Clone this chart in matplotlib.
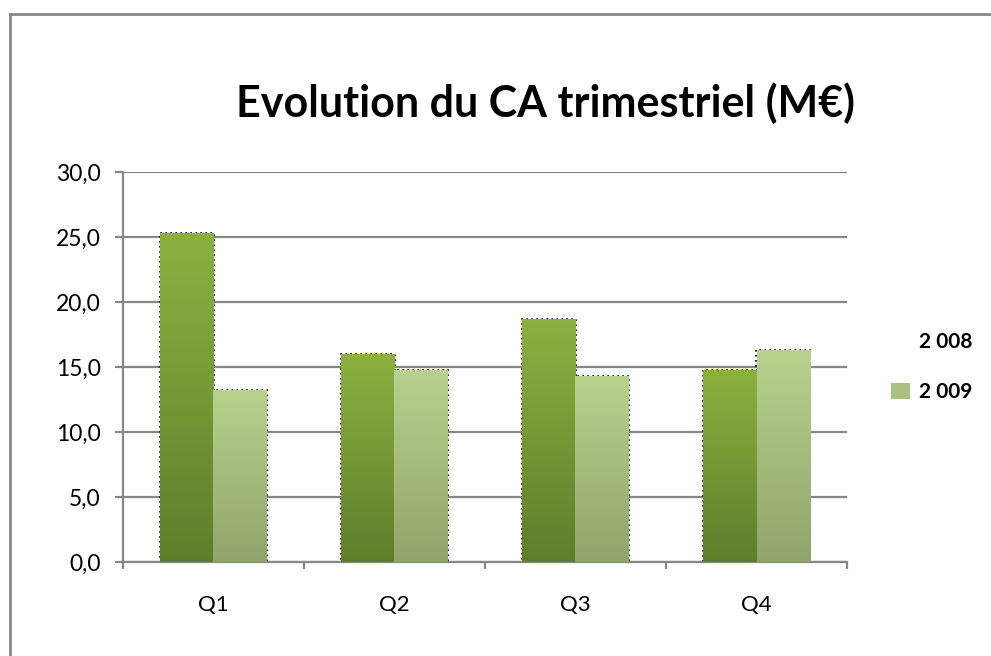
import numpy as np
import matplotlib
matplotlib.use("Agg")
import matplotlib.pyplot as plt
from matplotlib.patches import Patch
from matplotlib.lines import Line2D

plt.rcParams['font.family'] = ['Lato', 'DejaVu Sans']

# data
quarters = ["Q1", "Q2", "Q3", "Q4"]
ca_2008 = [25.3, 16.0, 18.7, 14.8]
ca_2009 = [13.2, 14.8, 14.3, 16.3]
series_labels = ["2 008", "2 009"]
y_ticks = [0, 5, 10, 15, 20, 25, 30]

grey = "#878787"
col_2008 = ("#8cb140", "#5e7e2a")   # top, bottom
col_2009 = ("#b8d28c", "#91a46a")

fig = plt.figure(figsize=(9.91, 6.56), dpi=100)
ax = fig.add_axes([0.1241, 0.1433, 0.7306, 0.5945])

x = np.arange(len(quarters))
w = 0.293


def gradient_bars(xpos, vals, cols):
    bars = ax.bar(xpos, vals, w, color="none", edgecolor="none", zorder=3)
    # dotted outline, like the excel shadow border
    ax.bar(xpos, vals, w * 1.03, color="none", edgecolor="black",
           linewidth=1.2, linestyle=(0, (1, 2)), zorder=2)
    top = np.array(matplotlib.colors.to_rgb(cols[0]))
    bot = np.array(matplotlib.colors.to_rgb(cols[1]))
    t = np.linspace(0, 1, 256)[:, None]
    img = (top * (1 - t) + bot * t)[:, None, :]
    for b in bars:
        x0, y0 = b.get_x(), b.get_y()
        im = ax.imshow(img, extent=[x0, x0 + b.get_width(), y0, y0 + b.get_height()],
                       aspect="auto", zorder=3, origin="upper", interpolation="bilinear")
        im.set_clip_path(b)
    return bars


gradient_bars(x - w / 2, ca_2008, col_2008)
gradient_bars(x + w / 2, ca_2009, col_2009)

ax.set_xlim(-0.5, len(quarters) - 0.5)
ax.set_ylim(0, 30)
ax.set_yticks(y_ticks)
ax.set_yticklabels([f"{v:.1f}".replace(".", ",") for v in y_ticks], fontsize=16.5)
ax.yaxis.grid(True, color=grey, linewidth=1.6)
ax.set_axisbelow(True)

ax.set_xticks(x)
ax.set_xticklabels(quarters, fontsize=16)
ax.set_xticks(np.arange(-0.5, len(quarters)), minor=True)
ax.tick_params(axis="x", which="major", length=0, pad=24)
ax.tick_params(axis="x", which="minor", length=5, width=1.6, color=grey, direction="out")
ax.tick_params(axis="y", length=6, width=1.6, color=grey, direction="out", pad=10)

for s in ["top", "right"]:
    ax.spines[s].set_visible(False)
for s in ["left", "bottom"]:
    ax.spines[s].set_color(grey)
    ax.spines[s].set_linewidth(1.6)

fig.text(0.55, 0.843, "Evolution du CA trimestriel (M€)", ha="center", va="center",
         fontsize=31, fontweight="bold")

handles = [Patch(facecolor="white", edgecolor="none"),
           Patch(facecolor="#a9c17e", edgecolor="none")]
leg = fig.legend(handles, series_labels, loc="center left", bbox_to_anchor=(0.88, 0.44),
                 frameon=False, prop={"weight": "bold", "size": 15},
                 handlelength=0.9, handleheight=0.8, handletextpad=0.45, labelspacing=1.45)

# outer chart frame (only top and left visible)
fig.add_artist(Line2D([0.0101, 0.0101], [0, 1 - 14 / 656], transform=fig.transFigure,
                      color=grey, linewidth=2))
fig.add_artist(Line2D([0.0101, 1], [1 - 14 / 656, 1 - 14 / 656], transform=fig.transFigure,
                      color=grey, linewidth=2))

fig.savefig("out.png", dpi=100)
